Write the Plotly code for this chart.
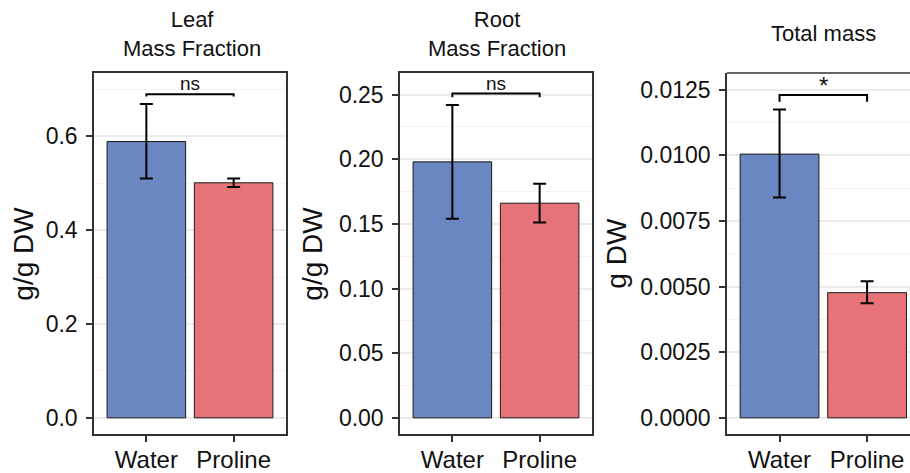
import plotly.graph_objects as go

# ---------------- data ----------------
categories = ["Water", "Proline"]

leaf_mean = [0.589, 0.501]
leaf_upper = [0.669, 0.510]
leaf_lower = [0.510, 0.492]

root_mean = [0.198, 0.166]
root_upper = [0.242, 0.181]
root_lower = [0.154, 0.151]

total_mean = [0.01005, 0.00477]
total_upper = [0.01175, 0.00520]
total_lower = [0.00840, 0.00437]

panel_titles = ["Leaf<br>Mass Fraction", "Root<br>Mass Fraction", "Total mass"]
y_titles = ["g/g DW", "g/g DW", "g DW"]
sig_labels = ["ns", "ns", "*"]
bracket_top = [0.690, 0.2508, 0.01230]
bracket_tip = [0.685, 0.2480, 0.01205]

# ---------------- styling ----------------
W, H = 910, 473
FONT = "Liberation Sans, Arial, Helvetica, sans-serif"
BLUE = "#6A87C1"
RED = "#E57377"
AXIS_COL = "#333333"
panels = [
    dict(mean=leaf_mean, up=leaf_upper, lo=leaf_lower, xpx=(94, 286), xr=[0.4, 2.6],
         yr=[-0.035, 0.735], dtick=0.2, fmt=".1f", mirror=True),
    dict(mean=root_mean, up=root_upper, lo=root_lower, xpx=(400, 592), xr=[0.4, 2.6],
         yr=[-0.0127, 0.2667], dtick=0.05, fmt=".2f", mirror=True),
    dict(mean=total_mean, up=total_upper, lo=total_lower, xpx=(727, 910), xr=[0.4, 2.49],
         yr=[-0.000626, 0.01314], dtick=0.0025, fmt=".4f", mirror=False),
]
title_pos = [(192, 34), (497, 34), (823, 34)]
ytitle_pos = [24, 313, 617]
PLOT_TOP, PLOT_BOT = 73.5, 437

fig = go.Figure()
layout = dict(
    width=W, height=H, autosize=False,
    margin=dict(l=0, r=0, t=0, b=0),
    paper_bgcolor="white", plot_bgcolor="white",
    showlegend=False,
    font=dict(family=FONT, color="#111111"),
    annotations=[], shapes=[],
)

for i, p in enumerate(panels):
    n = "" if i == 0 else str(i + 1)
    xa, ya = "x" + n, "y" + n
    err_plus = [u - m for u, m in zip(p["up"], p["mean"])]
    err_minus = [m - l for m, l in zip(p["mean"], p["lo"])]
    fig.add_trace(go.Bar(
        x=[1, 2], y=p["mean"], width=0.9,
        marker=dict(color=[BLUE, RED], line=dict(color="#1a1a1a", width=1)),
        error_y=dict(type="data", symmetric=False, array=err_plus, arrayminus=err_minus,
                     color="black", thickness=2, width=6.5),
        xaxis=xa, yaxis=ya, hoverinfo="skip",
    ))
    # significance bracket
    fig.add_trace(go.Scatter(
        x=[1, 1, 2, 2],
        y=[bracket_tip[i], bracket_top[i], bracket_top[i], bracket_tip[i]],
        mode="lines", line=dict(color="black", width=2),
        xaxis=xa, yaxis=ya, hoverinfo="skip",
    ))
    layout["annotations"].append(dict(
        x=1.5, y=bracket_top[i], xref=xa, yref=ya, text=sig_labels[i],
        showarrow=False, yanchor="bottom", yshift=-2 if sig_labels[i] == "ns" else -6,
        font=dict(size=19 if sig_labels[i] == "ns" else 24, family=FONT, color="#111"),
    ))
    x0, x1 = p["xpx"][0] / W, p["xpx"][1] / W
    layout["xaxis" + n] = dict(
        domain=[x0, x1], range=p["xr"], anchor=ya,
        tickmode="array", tickvals=[1, 2], ticktext=categories,
        ticks="outside", ticklen=6, tickwidth=1.5, tickcolor=AXIS_COL,
        ticklabelstandoff=-3,
        showgrid=False, zeroline=False,
        showline=True, linecolor=AXIS_COL, linewidth=1.5, mirror=p["mirror"],
        tickfont=dict(size=24, family=FONT, color="#111"),
        fixedrange=True,
    )
    layout["yaxis" + n] = dict(
        domain=[1 - PLOT_BOT / H, 1 - PLOT_TOP / H], range=p["yr"], anchor=xa,
        tick0=0, dtick=p["dtick"], tickformat=p["fmt"],
        ticks="outside", ticklen=6, tickwidth=1.5, tickcolor=AXIS_COL,
        ticklabelstandoff=4,
        showgrid=True, gridcolor="#EBEBEB", gridwidth=1.6,
        minor=dict(tick0=0, dtick=p["dtick"] / 2, showgrid=True,
                   gridcolor="#F3F3F3", gridwidth=1),
        zeroline=False,
        showline=True, linecolor=AXIS_COL, linewidth=1.5, mirror=p["mirror"],
        tickfont=dict(size=23, family=FONT, color="#111"),
        fixedrange=True,
    )
    if not p["mirror"]:
        layout["shapes"].append(dict(
            type="line", xref=xa + " domain", yref=ya + " domain",
            x0=0, x1=1.1, y0=1, y1=1, line=dict(color=AXIS_COL, width=1.5),
        ))
    # panel title
    tx, ty = title_pos[i]
    layout["annotations"].append(dict(
        x=tx / W, y=1 - ty / H, xref="paper", yref="paper", text=panel_titles[i],
        showarrow=False, xanchor="center", yanchor="middle", align="center",
        font=dict(size=22, family=FONT, color="#111"),
    ))
    # y-axis title
    layout["annotations"].append(dict(
        x=ytitle_pos[i] / W, y=1 - ((PLOT_TOP + PLOT_BOT) / 2) / H, xref="paper", yref="paper",
        text=y_titles[i], textangle=-90, showarrow=False,
        xanchor="center", yanchor="middle",
        font=dict(size=28, family=FONT, color="#111"),
    ))

fig.update_layout(**layout)
fig.write_html("out.html", config={"displayModeBar": False},
               post_script="document.body.style.margin='0px';document.body.style.overflow='hidden';")
